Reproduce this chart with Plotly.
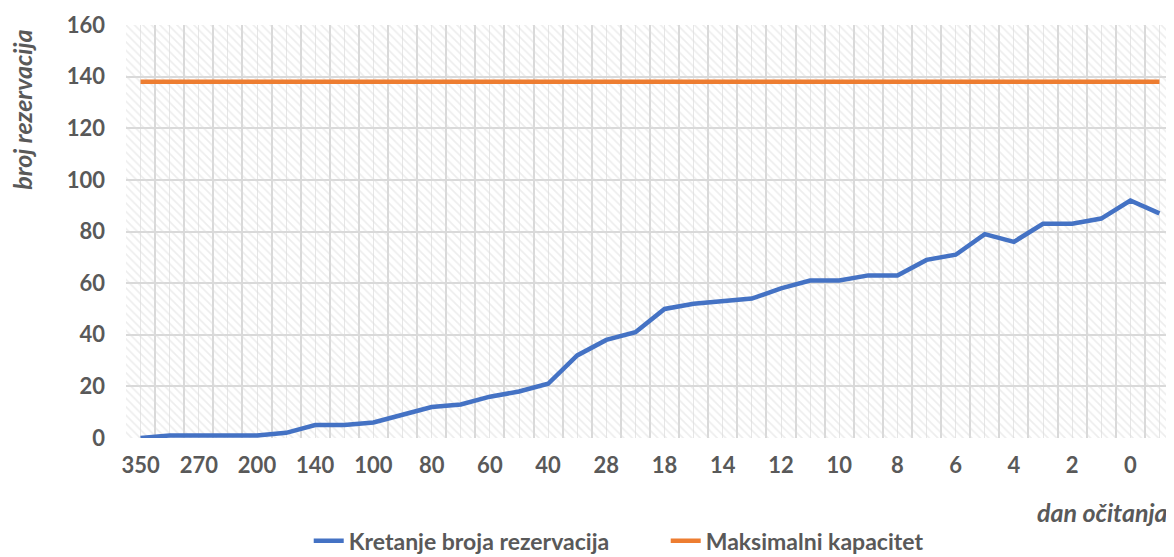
import plotly.graph_objects as go

# dani do dolaska (kategorije na x osi), svaki drugi je prikazan
dani = ["350", "300", "270", "240", "200", "170", "140", "120", "100", "90",
        "80", "70", "60", "50", "40", "30", "28", "21", "18", "16",
        "14", "13", "12", "11", "10", "9", "8", "7", "6", "5",
        "4", "3", "2", "1", "0", "-1"]
rezervacije = [0, 1, 1, 1, 1, 2, 5, 5, 6, 9,
               12, 13, 16, 18, 21, 32, 38, 41, 50, 52,
               53, 54, 58, 61, 61, 63, 63, 69, 71, 79,
               76, 83, 83, 85, 92, 87]
kapacitet = 138
y_ticks = [0, 20, 40, 60, 80, 100, 120, 140, 160]

n = len(dani)
siva = "#595959"
font = "Lato"

fig = go.Figure()

# pozadina s kosim srafurama (na skrivenim osima x/y)
fig.add_trace(go.Bar(
    x=[n / 2], y=[1], width=[n],
    marker=dict(color="rgba(0,0,0,0)", line=dict(width=0),
                pattern=dict(shape="\\", fgcolor="#dcdcdc", size=6, solidity=0.28)),
    showlegend=False, hoverinfo="skip", xaxis="x", yaxis="y"))

fig.add_trace(go.Scatter(
    x=dani, y=rezervacije, mode="lines", name="Kretanje broja rezervacija",
    line=dict(color="#4472C4", width=4.5), xaxis="x2", yaxis="y2"))
fig.add_trace(go.Scatter(
    x=dani, y=[kapacitet] * n, mode="lines", name="Maksimalni kapacitet",
    line=dict(color="#ED7D31", width=4.5), xaxis="x2", yaxis="y2"))

ticktext = [d if i % 2 == 0 else "" for i, d in enumerate(dani)]
tick_font = dict(family=font, size=22, color=siva, weight="bold")

fig.update_layout(
    width=1166, height=549,
    margin=dict(l=118, r=0, t=17, b=119, autoexpand=False),
    paper_bgcolor="white", plot_bgcolor="white",
    font=dict(family=font, color=siva),
    xaxis=dict(range=[0, n], showgrid=True, gridcolor="#e6e6e6", gridwidth=1,
               tick0=0.5, dtick=1, showticklabels=False, zeroline=False,
               fixedrange=True),
    yaxis=dict(range=[0, 1], showgrid=False, showticklabels=False,
               zeroline=False, fixedrange=True),
    xaxis2=dict(overlaying="x", anchor="y2", type="category",
                range=[-0.5, n - 0.5],
                tickmode="array", tickvals=dani, ticktext=ticktext,
                tickson="boundaries", ticks="", tickangle=0, showgrid=True,
                gridcolor="#d9d9d9", gridwidth=1.5, showline=False,
                ticklabelstandoff=12, tickfont=tick_font),
    yaxis2=dict(overlaying="y", anchor="x2", side="left", range=[0, 160],
                tickmode="array", tickvals=y_ticks, showgrid=True,
                gridcolor="#d9d9d9", gridwidth=1.5, zeroline=False, ticks="",
                ticklabelstandoff=20, tickfont=tick_font),
    legend=dict(orientation="h", x=0.515, xanchor="center", y=-0.249,
                yanchor="middle",
                font=dict(family=font, size=23, color=siva, weight="bold"),
                bgcolor="rgba(0,0,0,0)", entrywidth=312),
    annotations=[
        dict(text="<b><i>dan očitanja</i></b>", xref="paper", yref="paper",
             x=1, y=-0.179, xanchor="right", yanchor="middle", xshift=-4,
             showarrow=False, font=dict(family=font, size=25, color=siva)),
        dict(text="<b><i>broj rezervacija</i></b>", xref="paper", yref="paper",
             x=-0.0995, y=0.794, xanchor="center", yanchor="middle",
             textangle=-90, showarrow=False,
             font=dict(family=font, size=25, color=siva)),
    ],
)

fig.write_html("out.html")
